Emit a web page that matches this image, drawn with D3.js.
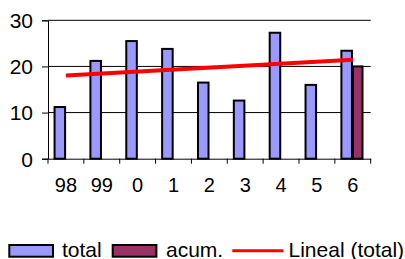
<!DOCTYPE html>
<html><head><meta charset="utf-8">
<script src="https://cdn.jsdelivr.net/npm/d3@7"></script>
<style>body{margin:0;background:#fff}svg{display:block}text{font-family:"Liberation Sans",Arial,sans-serif;fill:#000}</style>
</head><body><svg id="c" width="405" height="259"></svg>
<script>
const categories = ["98","99","0","1","2","3","4","5","6"];
const totalValues = [11.2,21.2,25.5,23.8,16.5,12.6,27.3,16.0,23.4];
const acumValues = [null,null,null,null,null,null,null,null,20];
const yTicks = [0,10,20,30];
const seriesNames = ["total","acum.","Lineal (total)"];

const svg = d3.select("#c");
const x = d3.scaleBand().domain(categories).range([48,370.7]).paddingInner(0).paddingOuter(0);
const y = d3.scaleLinear().domain([0,30]).range([158.7,20.3]);
const bw = x.bandwidth();

// gridlines
svg.append("g").selectAll("line").data(yTicks.filter(d=>d>0)).join("line")
  .attr("x1",48).attr("x2",370.7).attr("y1",d=>y(d)).attr("y2",d=>y(d))
  .attr("stroke","#000").attr("stroke-width",1);

// y axis
const ya = svg.append("g").attr("transform","translate(48,0)")
  .call(d3.axisLeft(y).tickValues(yTicks).tickSize(6).tickPadding(9).tickFormat(d3.format("d")));
ya.select(".domain").attr("stroke","#000");
ya.selectAll("line").attr("stroke","#000");
ya.selectAll("text").style("font-size","21px").attr("dy","0.35em");

// x axis
const xa = svg.append("g").attr("transform",`translate(0,${y(0)})`)
  .call(d3.axisBottom(x).tickSize(0).tickPadding(26));
xa.select(".domain").attr("stroke","#000");
xa.selectAll("text").style("font-size","20px").attr("dy","0.35em");
// tick marks at band boundaries
svg.append("g").selectAll("line").data(d3.range(categories.length+1)).join("line")
  .attr("x1",i=>48+i*bw).attr("x2",i=>48+i*bw).attr("y1",y(0)).attr("y2",y(0)+5)
  .attr("stroke","#000");

// bars
const w = bw*0.35, off = bw*0.155;
svg.append("g").selectAll("rect").data(categories.map((c,i)=>({c,v:totalValues[i]}))).join("rect")
  .attr("x",d=>x(d.c)+off+1).attr("width",w-2)
  .attr("y",d=>y(d.v)).attr("height",d=>y(0)-y(d.v))
  .attr("fill","#9999FF").attr("stroke","#000").attr("stroke-width",2);
svg.append("g").selectAll("rect").data(categories.map((c,i)=>({c,v:acumValues[i]})).filter(d=>d.v!=null)).join("rect")
  .attr("x",d=>x(d.c)+off+w).attr("width",w-3)
  .attr("y",d=>y(d.v)).attr("height",d=>y(0)-y(d.v))
  .attr("fill","#993366").attr("stroke","#000").attr("stroke-width",2);

// linear trendline (least squares over the total series)
const n = totalValues.length;
const xs = d3.range(1,n+1);
const mx = d3.mean(xs), my = d3.mean(totalValues);
const slope = d3.sum(xs,(xi,i)=>(xi-mx)*(totalValues[i]-my))/d3.sum(xs,xi=>(xi-mx)**2);
const icpt = my - slope*mx;
const trend = [0,n-1].map(i=>({c:categories[i],v:icpt+slope*(i+1)}));
svg.append("path").datum(trend)
  .attr("d",d3.line().x(d=>x(d.c)+bw/2).y(d=>y(d.v)))
  .attr("stroke","#FF0000").attr("stroke-width",4).attr("fill","none");

// legend
const lg = svg.append("g");
lg.append("rect").attr("x",9.3).attr("y",245).attr("width",43.7).attr("height",11.7)
  .attr("fill","#9999FF").attr("stroke","#000").attr("stroke-width",2);
lg.append("text").attr("x",62).attr("y",256.5).style("font-size","21px").text(seriesNames[0]);
lg.append("rect").attr("x",112.7).attr("y",245).attr("width",43.7).attr("height",11.7)
  .attr("fill","#993366").attr("stroke","#000").attr("stroke-width",2);
lg.append("text").attr("x",166).attr("y",256.5).style("font-size","21px").text(seriesNames[1]);
lg.append("line").attr("x1",232.3).attr("x2",283.3).attr("y1",250.7).attr("y2",250.7)
  .attr("stroke","#FF0000").attr("stroke-width",3);
lg.append("text").attr("x",288.5).attr("y",256.5).style("font-size","21px").text(seriesNames[2]);
</script></body></html>
